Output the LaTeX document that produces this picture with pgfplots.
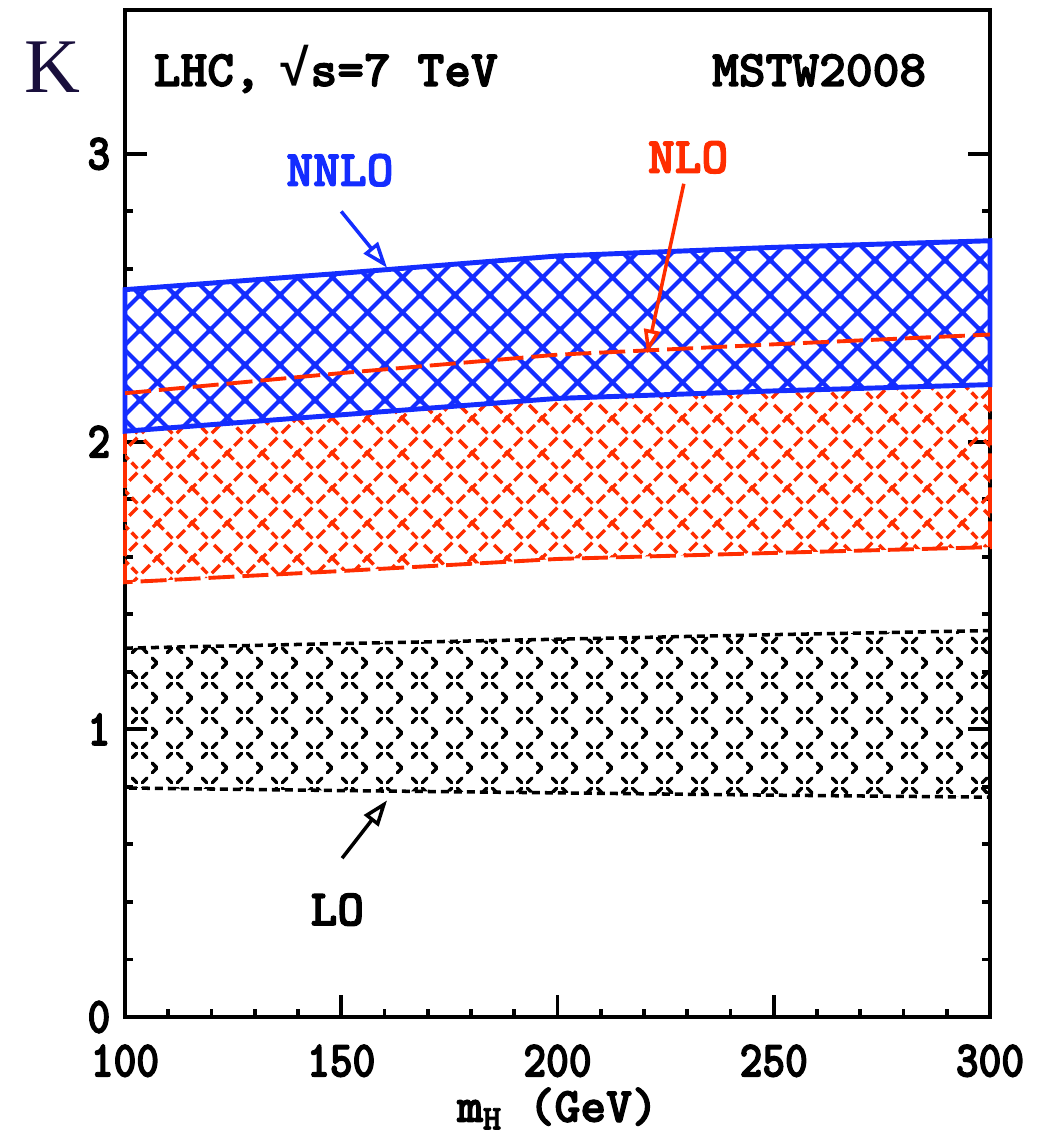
\documentclass[border=0pt]{standalone}
\usepackage{pgfplots}
\pgfplotsset{compat=1.18}
\usepackage{fontspec}
\setmainfont{Liberation Mono}
\newfontfamily\tdfont{lmmonolt10-bold.otf}[FakeBold=2.5]
\newfontfamily\tickfont{lmmonolt10-bold.otf}[FakeStretch=0.85, FakeBold=2.5]
\newfontfamily\surdfont{Liberation Mono}
\newfontfamily\kfont{Liberation Serif}
\usetikzlibrary{patterns.meta, arrows.meta}

\definecolor{nnlo}{RGB}{20,45,255}
\definecolor{nlo}{RGB}{255,45,0}
\definecolor{knavy}{RGB}{25,15,60}

% segments along the two diagonals of a 3.5mm tile
\newcommand\dseg[2]{\pgfpathmoveto{\pgfpoint{#1mm}{#1mm}}\pgfpathlineto{\pgfpoint{#2mm}{#2mm}}}
\newcommand\aseg[2]{\pgfpathmoveto{\pgfpoint{#1mm}{3.5mm-#1mm}}\pgfpathlineto{\pgfpoint{#2mm}{3.5mm-#2mm}}}

\pgfdeclarepattern{
  name=nnlohatch, type=uncolored,
  bottom left={\pgfpoint{-1pt}{-1pt}}, top right={\pgfpoint{3.5mm+1pt}{3.5mm+1pt}},
  tile size={\pgfpoint{3.5mm}{3.5mm}},
  code={
    \pgfsetlinewidth{1.2pt}
    \pgfpathmoveto{\pgfpoint{-1pt}{-1pt}}\pgfpathlineto{\pgfpoint{3.5mm+1pt}{3.5mm+1pt}}
    \pgfpathmoveto{\pgfpoint{-1pt}{3.5mm+1pt}}\pgfpathlineto{\pgfpoint{3.5mm+1pt}{-1pt}}
    \pgfusepath{stroke}
  }
}
\pgfdeclarepattern{
  name=nlohatch, type=uncolored,
  bottom left={\pgfpoint{0mm}{0mm}}, top right={\pgfpoint{3.5mm}{3.5mm}},
  tile size={\pgfpoint{3.5mm}{3.5mm}},
  code={
    \pgfsetlinewidth{1pt}
    \dseg{0.18}{1.02}\dseg{1.33}{2.17}\dseg{2.49}{3.32}
    \aseg{0.42}{1.26}\aseg{1.58}{2.42}\aseg{2.73}{3.33}
    \pgfusepath{stroke}
  }
}
\pgfdeclarepattern{
  name=lohatch, type=uncolored,
  bottom left={\pgfpoint{0mm}{0mm}}, top right={\pgfpoint{3.5mm}{3.5mm}},
  tile size={\pgfpoint{3.5mm}{3.5mm}},
  code={
    \pgfsetlinewidth{1pt}
    \pgfsetroundcap
    \dseg{0.25}{0.70}\dseg{1.26}{1.72}\dseg{2.80}{3.25}
    \aseg{0.25}{0.70}\aseg{1.26}{1.72}\aseg{2.80}{3.25}
    \pgfusepath{stroke}
  }
}

\begin{document}
\begin{tikzpicture}
\begin{axis}[
  name=ax,
  scale only axis,
  width=8.65cm, height=10.07cm,
  xmin=100, xmax=300, ymin=0, ymax=3.5,
  xtick={100,150,...,300}, ytick={0,1,2,3},
  minor x tick num=4, minor y tick num=4,
  xtick pos=bottom, ytick pos=both,
  tick align=inside,
  major tick length=2.2mm, minor tick length=0.8mm,
  every tick/.style={black, line width=1.1pt},
  axis line style={line width=1.3pt},
  /pgf/number format/assume math mode=true,
  tick label style={font=\tickfont\fontsize{14.5}{14.5}\selectfont, inner sep=0pt},
  xticklabel style={yshift=-2.7mm},
  yticklabel style={xshift=-1.4mm},
  xlabel={m\textsubscript{H} (GeV)},
  xlabel style={font=\tdfont\fontsize{14}{14}\selectfont, inner sep=0pt,
    at={(axis description cs:0.5,-0.104)}, anchor=base},
  clip=false,
]
% LO band
\addplot[black, line width=1pt, dash pattern=on 0.8mm off 0.5mm,
  pattern=lohatch, pattern color=black] coordinates {
  (100,1.282) (150,1.298) (200,1.313) (250,1.329) (300,1.343)
  (300,0.764) (250,0.771) (200,0.779) (150,0.787) (100,0.796)
} -- cycle;
% NLO band
\addplot[nlo, line width=1.1pt, dash pattern=on 2.6mm off 0.8mm,
  pattern=nlohatch, pattern color=nlo] coordinates {
  (100,2.168) (150,2.238) (200,2.302) (250,2.338) (300,2.372)
  (300,1.633) (250,1.613) (200,1.592) (150,1.550) (100,1.511)
} -- cycle;
% NNLO band
\addplot[fill=white, draw=none] coordinates {
  (100,2.528) (150,2.585) (200,2.645) (250,2.675) (300,2.698)
  (300,2.198) (250,2.176) (200,2.150) (150,2.093) (100,2.036)
} -- cycle;
\addplot[nnlo, line width=1.4pt, pattern=nnlohatch, pattern color=nnlo] coordinates {
  (100,2.528) (150,2.585) (200,2.645) (250,2.675) (300,2.698)
  (300,2.198) (250,2.176) (200,2.150) (150,2.093) (100,2.036)
} -- cycle;
% NLO upper edge on top
\addplot[nlo, line width=1.1pt, dash pattern=on 2.6mm off 0.8mm] coordinates {
  (100,2.168) (150,2.238) (200,2.302) (250,2.338) (300,2.372)
};

\node[font=\tdfont\fontsize{14.5}{14.5}\selectfont, anchor=base west, inner sep=0pt]
  at (axis cs:106.5,3.236) {LHC,\kern-0.15em\ {\surdfont\bfseries √}s=7 TeV};
\node[font=\tdfont\fontsize{14.5}{14.5}\selectfont, anchor=base east, inner sep=0pt]
  at (axis cs:285.4,3.236) {MSTW2008};
\node[nnlo, font=\tdfont\fontsize{14.5}{14.5}\selectfont, anchor=base, inner sep=0pt]
  at (axis cs:149.7,2.889) {NNLO};
\draw[nnlo, line width=1pt, -{Triangle[open, length=2.6mm, width=1.8mm]}]
  (axis cs:150.0,2.80) -- (axis cs:160.6,2.604);
\node[nlo, font=\tdfont\fontsize{14.5}{14.5}\selectfont, anchor=base, inner sep=0pt]
  at (axis cs:230.2,2.934) {NLO};
\draw[nlo, line width=1pt, -{Triangle[open, length=2.4mm, width=1.6mm]}]
  (axis cs:229.2,2.896) -- (axis cs:220.7,2.306);
\node[font=\tdfont\fontsize{14.5}{14.5}\selectfont, anchor=base, inner sep=0pt]
  at (axis cs:149.1,0.319) {LO};
\draw[black, line width=1pt, -{Triangle[open, length=2.6mm, width=1.8mm]}]
  (axis cs:150.2,0.552) -- (axis cs:160.6,0.753);
\node[knavy, font=\kfont\fontsize{22}{22}\selectfont] at (rel axis cs:-0.084,0.943) {K};
\end{axis}
\path ([shift={(-1.25cm,-1.18cm)}]ax.south west) rectangle ([shift={(0.65cm,0.10cm)}]ax.north east);
\end{tikzpicture}
\end{document}
